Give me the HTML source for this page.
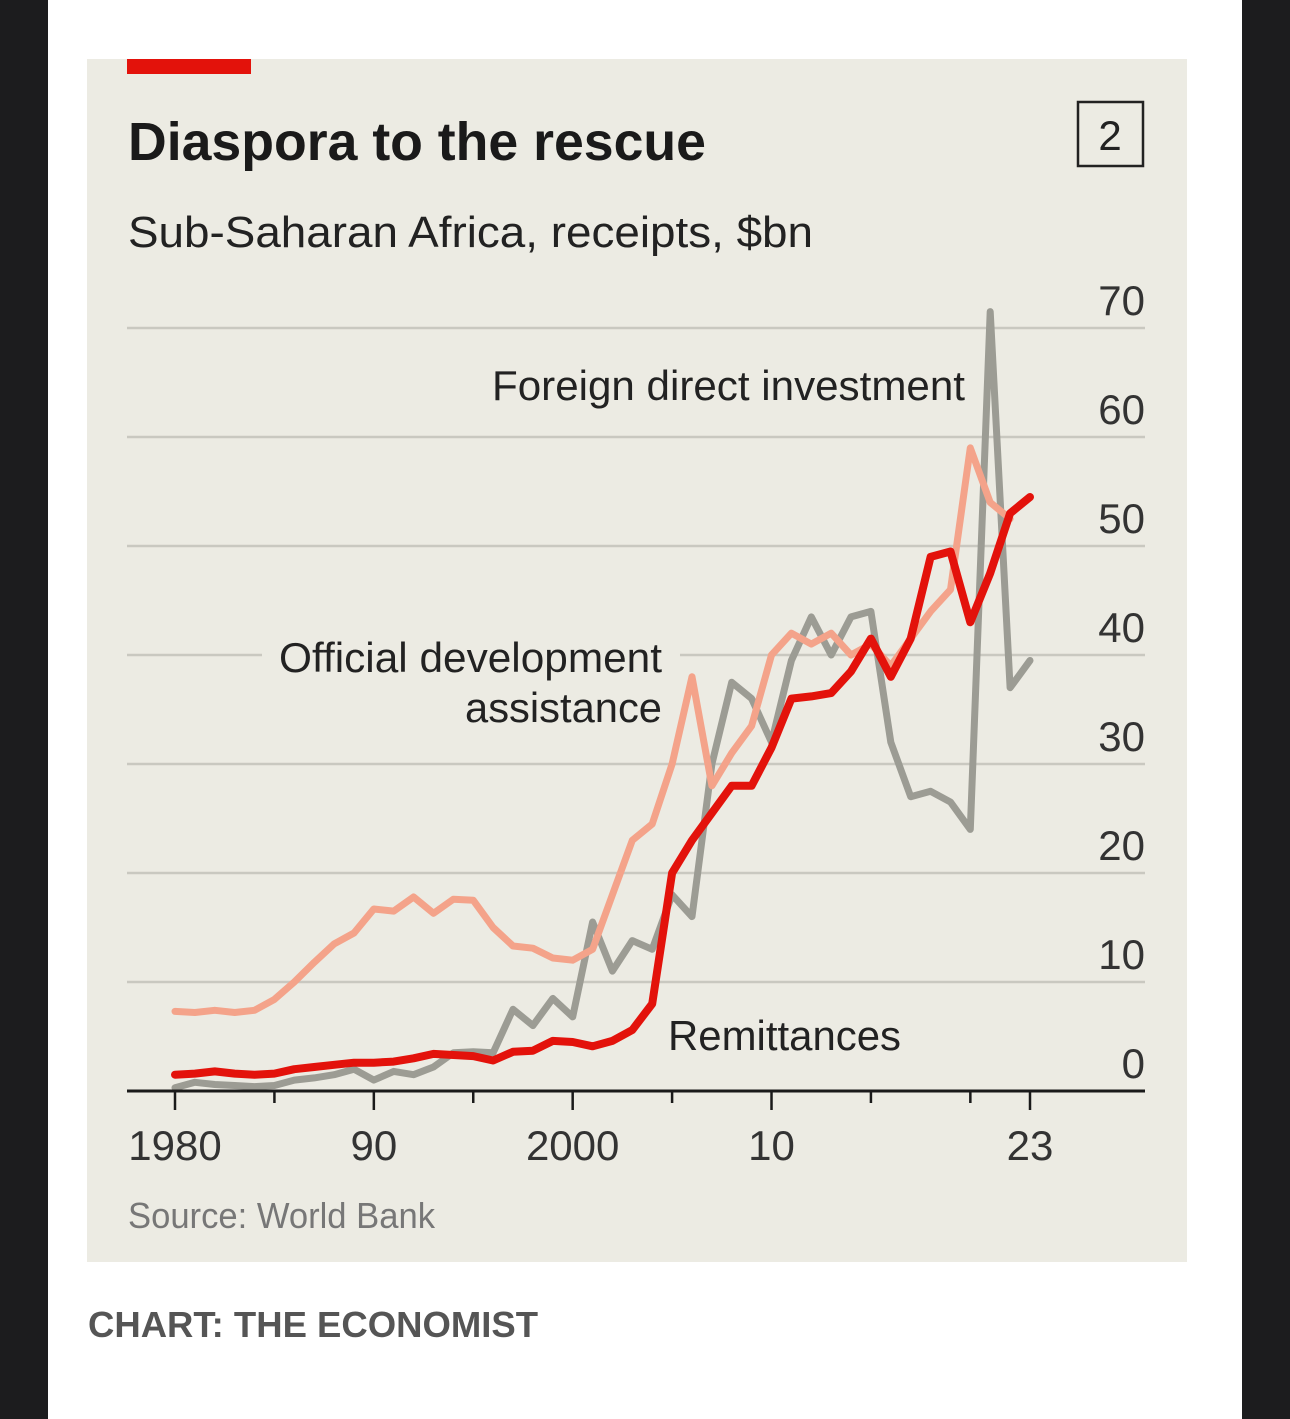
<!DOCTYPE html>
<html><head><meta charset="utf-8"><style>
html,body{margin:0;padding:0;background:#1c1c1e;}
svg{display:block;font-family:"Liberation Sans",sans-serif;}
</style></head><body>
<svg width="1290" height="1419" viewBox="0 0 1290 1419">
<rect x="48" y="0" width="1194" height="1419" fill="#ffffff"/>
<rect x="87" y="59" width="1100" height="1203" fill="#ecebe3"/>
<rect x="127" y="59" width="124" height="15" fill="#e3120b"/>
<text x="128" y="160" font-size="54" font-weight="bold" fill="#1a1a1a" textLength="578" lengthAdjust="spacingAndGlyphs">Diaspora to the rescue</text>
<text x="128" y="247" font-size="44" fill="#222" textLength="685" lengthAdjust="spacingAndGlyphs">Sub-Saharan Africa, receipts, $bn</text>
<rect x="1078" y="102" width="65" height="64" fill="none" stroke="#222" stroke-width="2.5"/>
<text x="1110" y="150" font-size="42" text-anchor="middle" fill="#222">2</text>
<g id="grid"></g>
<g id="ylabels"></g>
<rect x="262" y="630" width="418" height="100" fill="#ecebe3"/>
<g id="series"></g>
<g id="xaxis"></g>
<text x="492" y="400" font-size="42" fill="#222" textLength="473" lengthAdjust="spacingAndGlyphs">Foreign direct investment</text>
<text x="662" y="672" font-size="42" fill="#222" text-anchor="end" textLength="383" lengthAdjust="spacingAndGlyphs">Official development</text>
<text x="662" y="722" font-size="42" fill="#222" text-anchor="end" textLength="197" lengthAdjust="spacingAndGlyphs">assistance</text>
<text x="668" y="1050" font-size="42" fill="#222" textLength="233" lengthAdjust="spacingAndGlyphs">Remittances</text>
<text x="128" y="1228" font-size="36" fill="#777" textLength="307" lengthAdjust="spacingAndGlyphs">Source: World Bank</text>
<text x="88" y="1337" font-size="36" font-weight="bold" fill="#555" textLength="450" lengthAdjust="spacingAndGlyphs">CHART: THE ECONOMIST</text>
</svg>
<script>
const years = [1980,1981,1982,1983,1984,1985,1986,1987,1988,1989,1990,1991,1992,1993,1994,1995,1996,1997,1998,1999,2000,2001,2002,2003,2004,2005,2006,2007,2008,2009,2010,2011,2012,2013,2014,2015,2016,2017,2018,2019,2020,2021,2022,2023];
const fdi = [0.3,0.8,0.6,0.5,0.4,0.5,1.0,1.2,1.5,2.0,1.0,1.8,1.5,2.2,3.5,3.6,3.5,7.5,6.0,8.5,6.8,15.5,11,13.8,13,18,16,30,37.5,36,32,39.5,43.5,40,43.5,44,32,27,27.5,26.5,24,71.5,37,39.5];
const oda = [7.3,7.2,7.4,7.2,7.4,8.4,10,11.8,13.5,14.5,16.7,16.5,17.8,16.3,17.6,17.5,15,13.3,13.1,12.2,12,13,18,23,24.5,30,38,28,31,33.5,40,42,41,42,40,41,39,41.5,44,46,59,54,52.5];
const remit = [1.5,1.6,1.8,1.6,1.5,1.6,2.0,2.2,2.4,2.6,2.6,2.7,3.0,3.4,3.3,3.2,2.8,3.6,3.7,4.6,4.5,4.1,4.6,5.6,8,20,23,25.5,28,28,31.5,36,36.2,36.5,38.5,41.5,38,41.5,49,49.5,43,47.5,53,54.5];
const yTicks = [0,10,20,30,40,50,60,70];
const xTickYears = [1980,1985,1990,1995,2000,2005,2010,2015,2020,2023];
const xLabelYears = [1980,1990,2000,2010,2023];
const xLabelText = ["1980","90","2000","10","23"];

const NS="http://www.w3.org/2000/svg";
const x = yr => 175 + (yr-1980)*(1030-175)/43;
const y = v => 1091 - v*(1091-328)/70;
function mk(tag, attrs, parent){const e=document.createElementNS(NS,tag);for(const k in attrs)e.setAttribute(k,attrs[k]);document.getElementById(parent).appendChild(e);return e;}

yTicks.forEach(v=>{
  if(v>0){
    const g=mk('line',{x1:127,x2:1145,y1:y(v),y2:y(v),stroke:'#c9c8c0','stroke-width':2.5},'grid');
    
    
  }
  const t=mk('text',{x:1145,y:y(v)-13,'font-size':42,'text-anchor':'end',fill:'#333'},'ylabels');
  t.textContent=v;
  
  
});

function series(vals,color,w,name){
  const d=vals.map((v,i)=>(i?'L':'M')+x(years[i]).toFixed(1)+' '+y(v).toFixed(1)).join(' ');
  const p=mk('path',{d:d,fill:'none',stroke:color,'stroke-width':w,'stroke-linejoin':'round','stroke-linecap':'round'},'series');
  
  
}
const odaYears = oda.length;
series(fdi,'#9c9c94',7,'fdi-line');
series(oda,'#f4a38a',7,'oda-line');
series(remit,'#e3120b',8,'remittances-line');

const ax=mk('line',{x1:127,x2:1145,y1:1091,y2:1091,stroke:'#1a1a1a',stroke_width:3,'stroke-width':3},'xaxis');


xTickYears.forEach(yr=>{
  const major = xLabelYears.includes(yr);
  const tk=mk('line',{x1:x(yr),x2:x(yr),y1:1091,y2:major?1110:1103,stroke:'#1a1a1a','stroke-width':2.5},'xaxis');
  
  
});
xLabelYears.forEach((yr,i)=>{
  const t=mk('text',{x:x(yr),y:1160,'font-size':42,'text-anchor':'middle',fill:'#333'},'xaxis');
  t.textContent=xLabelText[i];
  
  
});
</script>
</body></html>
